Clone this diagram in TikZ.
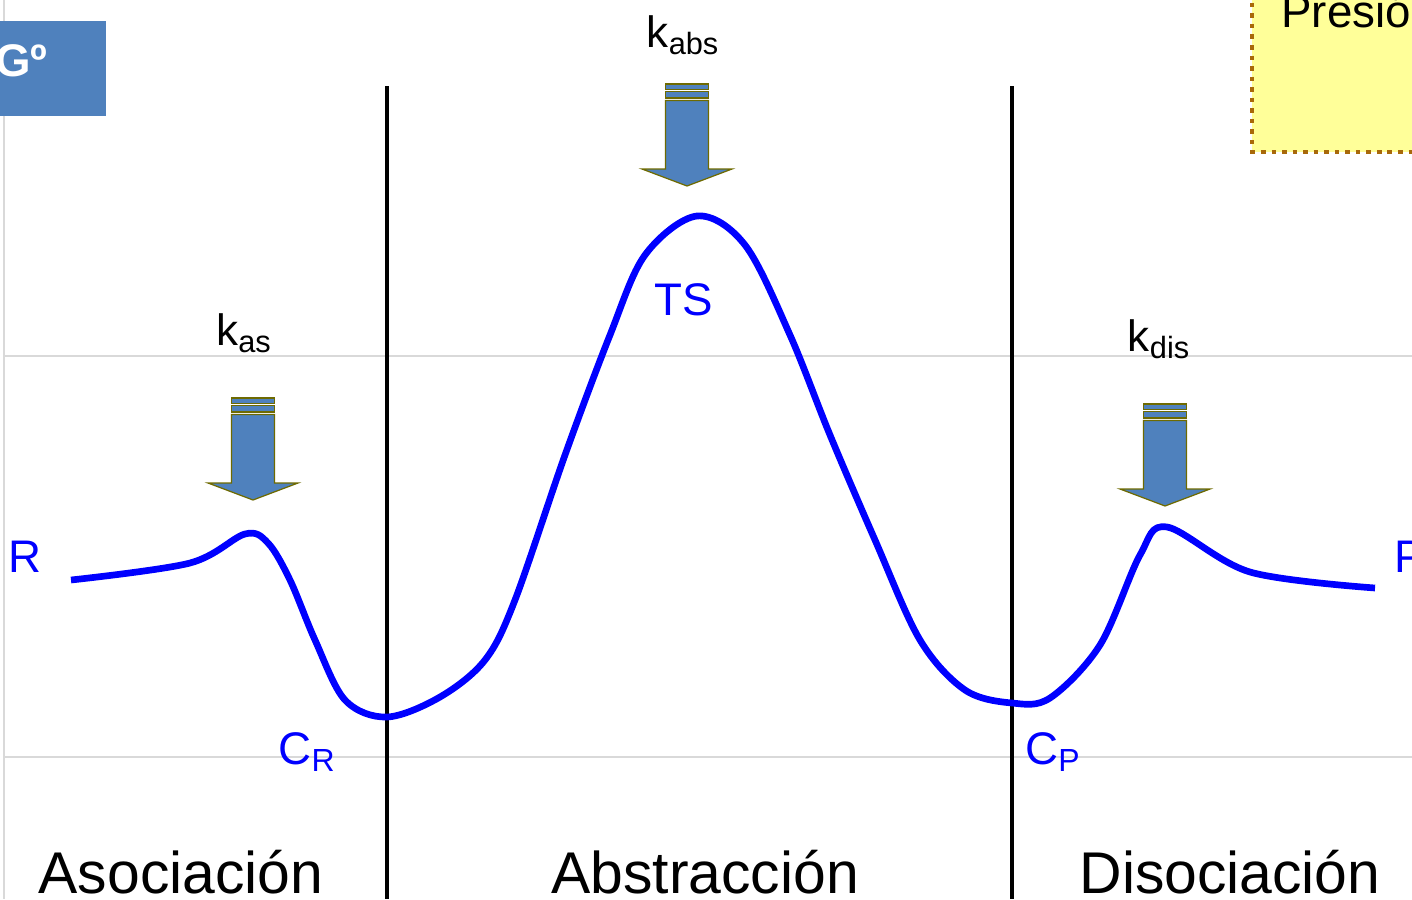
\documentclass[tikz,border=0pt]{standalone}
\usepackage{fontspec}
\setmainfont{Liberation Sans}
\definecolor{boxblue}{HTML}{4F81BD}
\definecolor{arrowedge}{HTML}{6E6A00}
\definecolor{noteyellow}{HTML}{FFFF99}
\definecolor{notebrown}{HTML}{A8690A}
\definecolor{gridgray}{HTML}{D9D9D9}
\tikzset{
  curvelabel/.style={text=blue,font=\fontsize{26}{30}\selectfont,inner sep=0pt},
  ratelabel/.style={text=black,font=\fontsize{25}{30}\selectfont,inner sep=0pt},
  stagelabel/.style={text=black,font=\fontsize{33.5}{38}\selectfont,inner sep=0pt,anchor=base},
  ratearrow/.style={fill=boxblue,draw=arrowedge,line width=0.7pt,line join=miter},
}
\begin{document}
\begin{tikzpicture}[x=0.02cm,y=-0.02cm,line cap=butt]
  \useasboundingbox (0,0) rectangle (1412,899);
  % grid
  \draw[gridgray,line width=1.1pt] (4,0) -- (4,899);
  \draw[gridgray,line width=1.1pt] (4,356) -- (1412,356);
  \draw[gridgray,line width=1.1pt] (4,757) -- (1412,757);
  % boxes
  \fill[boxblue] (-10,21) rectangle (106,116);
  \node[text=white,font=\bfseries\fontsize{26}{30}\selectfont,anchor=base east,inner sep=0pt] (G) at (48,76) {Gº};
  \draw[notebrown,fill=noteyellow,line width=2.6pt,dash pattern=on 2.6pt off 3.4pt] (1440,-20) -- (1252,-20) -- (1252,152) -- (1440,152);
  \node[font=\fontsize{26}{30}\selectfont,anchor=base west,inner sep=0pt] (presion) at (1281,28) {Presión};
  % stage dividers
  \coordinate (cR) at (387,717);
  \coordinate (cP) at (1012,703);
  \draw[line width=2.7pt] (387,86) -- (387,899);
  \draw[line width=2.7pt] (1012,86) -- (1012,899);
  % energy profile
  \draw[blue,line width=3.8pt,line cap=butt,line join=round] plot[smooth,tension=0.55] coordinates {
    (71,580) (190,563) (245,534) (268,543) (290,580) (315,640) (345,700)
    (387,717) (440,697) (485,660) (515,600) (565,455) (610,335) (645,255) (697,216)
    (745,245) (790,335) (830,435) (875,540) (920,640) (965,690) (1012,703) (1050,698)
    (1100,645) (1140,555) (1167,527) (1250,572) (1375,588)};
  \node[curvelabel] (R) at (25,557) {R};
  \node[curvelabel,anchor=west] (P) at (1394,557) {P};
  \node[curvelabel] (TS) at (684,300) {TS};
  \node[curvelabel] (CR) at (307,752) {C\textsubscript{R}};
  \node[curvelabel] (CP) at (1053,752) {C\textsubscript{P}};
  % rate constants
  \node[ratelabel] (kas) at (244,333) {k\textsubscript{as}};
  \node[ratelabel] (kabs) at (683,35) {k\textsubscript{abs}};
  \node[ratelabel] (kdis) at (1159,339) {k\textsubscript{dis}};
  \foreach \x/\y in {253/398,687/84,1165/404} {
    \draw[ratearrow] (\x-21.5,\y) rectangle (\x+21.5,\y+5.5);
    \draw[ratearrow] (\x-21.5,\y+7.5) rectangle (\x+21.5,\y+14);
    \draw[ratearrow] (\x-21.5,\y+16.5) -- (\x+21.5,\y+16.5) -- (\x+21.5,\y+85) -- (\x+45,\y+85)
      -- (\x,\y+102) -- (\x-45,\y+85) -- (\x-21.5,\y+85) -- cycle;
  }
  % stages
  \node[stagelabel] (asoc) at (181,893) {Asociación};
  \node[stagelabel] (abst) at (705,893) {Abstracción};
  \node[stagelabel] (disoc) at (1230,893) {Disociación};
\end{tikzpicture}
\end{document}
